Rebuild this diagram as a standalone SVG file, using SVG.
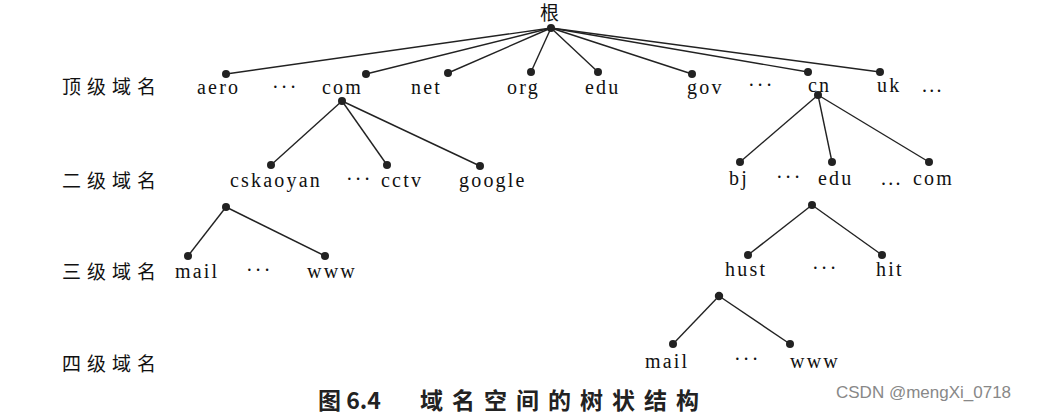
<svg xmlns="http://www.w3.org/2000/svg" width="1043" height="414" viewBox="0 0 1043 414">
<style>
.t{font-family:"Liberation Serif","Noto Sans CJK SC",serif;font-size:20px;letter-spacing:2.2px;fill:#111}
.c{font-family:"Noto Sans CJK SC",serif;font-size:19px;letter-spacing:6px;fill:#111}
.e line{stroke:#222;stroke-width:1.4}
circle{fill:#222}
</style>
<rect width="1043" height="414" fill="#fff"/>
<g id="levels">
<text class="c" x="62" y="94">顶级域名</text>
<text class="c" x="62" y="188">二级域名</text>
<text class="c" x="62" y="279">三级域名</text>
<text class="c" x="62" y="371">四级域名</text>
</g>
<g class="e" id="connectors">
<line x1="551" y1="28" x2="226" y2="74"/><line x1="551" y1="28" x2="366" y2="74"/>
<line x1="551" y1="28" x2="448" y2="73"/><line x1="551" y1="28" x2="531" y2="72"/>
<line x1="551" y1="28" x2="598" y2="72"/><line x1="551" y1="28" x2="692" y2="74"/>
<line x1="551" y1="28" x2="808" y2="72"/><line x1="551" y1="28" x2="880" y2="72"/>
<line x1="342" y1="101" x2="271" y2="165"/><line x1="342" y1="101" x2="387" y2="165"/><line x1="342" y1="101" x2="480" y2="166"/>
<line x1="818" y1="95" x2="740" y2="162"/><line x1="818" y1="95" x2="832" y2="162"/><line x1="818" y1="95" x2="929" y2="162"/>
<line x1="226" y1="207" x2="188" y2="256"/><line x1="226" y1="207" x2="325" y2="256"/>
<line x1="812" y1="205" x2="748" y2="255"/><line x1="812" y1="205" x2="882" y2="255"/>
<line x1="719" y1="296" x2="673" y2="344"/><line x1="719" y1="296" x2="790" y2="344"/>
</g>
<g id="dots">
<circle cx="551" cy="28" r="4"/><circle cx="226" cy="74" r="4"/><circle cx="366" cy="74" r="4"/><circle cx="448" cy="73" r="4"/>
<circle cx="531" cy="72" r="4"/><circle cx="598" cy="72" r="4"/><circle cx="692" cy="74" r="4"/><circle cx="808" cy="72" r="4"/><circle cx="880" cy="72" r="4"/>
<circle cx="342" cy="101" r="4"/><circle cx="271" cy="165" r="4"/><circle cx="387" cy="165" r="4"/><circle cx="480" cy="166" r="4"/>
<circle cx="818" cy="95" r="4"/><circle cx="740" cy="162" r="4"/><circle cx="832" cy="162" r="4"/><circle cx="929" cy="162" r="4"/>
<circle cx="226" cy="207" r="4"/><circle cx="188" cy="256" r="4"/><circle cx="325" cy="256" r="4"/>
<circle cx="812" cy="205" r="4"/><circle cx="748" cy="255" r="4"/><circle cx="882" cy="255" r="4"/>
<circle cx="719" cy="296" r="3.5" fill="#fff" stroke="#222" stroke-width="1.4"/><circle cx="673" cy="344" r="4"/><circle cx="790" cy="344" r="4"/>
</g>
<g id="labels" class="t">
<text x="540" y="20" style="font-family:'Noto Sans CJK SC',serif;font-size:19px;letter-spacing:0">根</text>
<text x="197" y="94">aero</text><text x="272" y="94">···</text><text x="322" y="94">com</text><text x="411" y="94">net</text>
<text x="507" y="94">org</text><text x="585" y="94">edu</text><text x="687" y="94">gov</text><text x="748" y="92">···</text>
<text x="808" y="92">cn</text><text x="877" y="92">uk</text><text x="922" y="92">...</text>
<text x="230" y="187">cskaoyan</text><text x="346" y="186">···</text><text x="381" y="187">cctv</text><text x="459" y="187">google</text>
<text x="729" y="185">bj</text><text x="776" y="184">···</text><text x="818" y="185">edu</text><text x="881" y="185">...</text><text x="913" y="185">com</text>
<text x="175" y="278">mail</text><text x="246" y="277">···</text><text x="307" y="278">www</text>
<text x="725" y="276">hust</text><text x="812" y="275">···</text><text x="876" y="276">hit</text>
<text x="645" y="368">mail</text><text x="734" y="366">···</text><text x="790" y="368">www</text>
</g>
<g id="caption" style="font-family:'Noto Sans CJK SC',serif;font-size:23px;font-weight:bold;fill:#222">
<text x="318" y="409">图 6.4</text>
<text x="420" y="409" style="letter-spacing:9px">域名空间的树状结构</text>
</g>
<text x="836" y="398" style="font-family:'Liberation Sans',sans-serif;font-size:17px;fill:#888">CSDN @mengXi_0718</text>
</svg>
